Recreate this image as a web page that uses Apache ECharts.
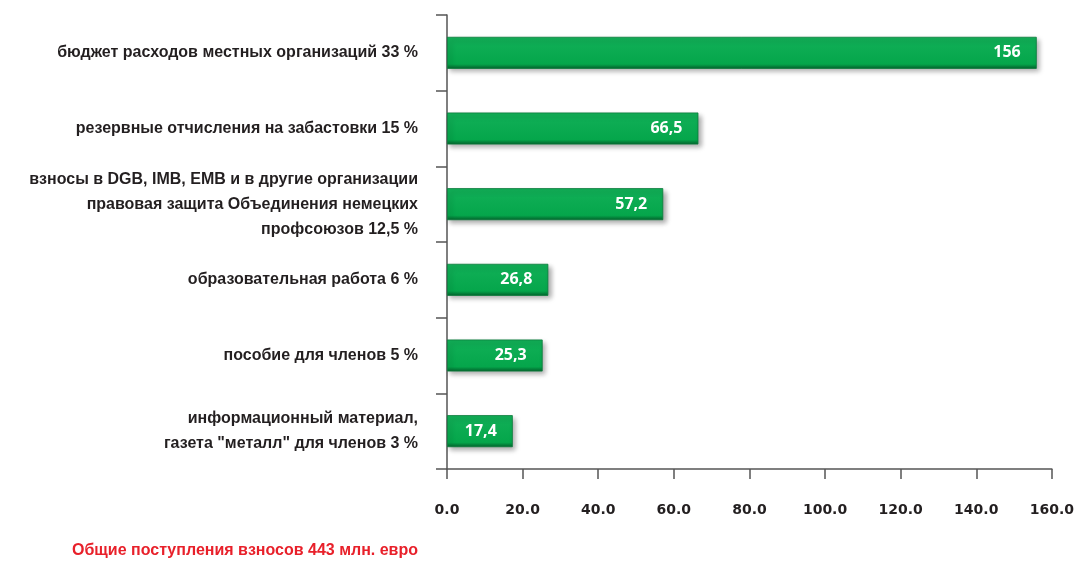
<!DOCTYPE html>
<html>
<head>
<meta charset="utf-8">
<script src="https://cdn.jsdelivr.net/npm/echarts@6/dist/echarts.min.js"></script>
<style>html,body{margin:0;padding:0;background:#fff}#c{width:1077px;height:563px}</style>
</head>
<body>
<div id="c"></div>
<script>
const categories = [
  'бюджет расходов местных организаций 33 %',
  'резервные отчисления на забастовки 15 %',
  'взносы в DGB, IMB, EMB и в другие организации\nправовая защита Объединения немецких\nпрофсоюзов 12,5 %',
  'образовательная работа 6 %',
  'пособие для членов 5 %',
  'информационный материал,\nгазета "металл" для членов 3 %'
];
const values = [156, 66.5, 57.2, 26.8, 25.3, 17.4];
const xTicks = { min: 0, max: 160, interval: 20 };
const footnote = 'Общие поступления взносов 443 млн. евро';

const labelFont = '"Liberation Sans", Arial, sans-serif';
const chart = echarts.init(document.getElementById('c'));
chart.setOption({
  animation: false,
  grid: { left: 447, right: 25, top: 15, bottom: 94 },
  xAxis: {
    type: 'value', min: xTicks.min, max: xTicks.max, interval: xTicks.interval,
    axisLine: { show: true, lineStyle: { color: '#555', width: 1.5 } },
    axisTick: { show: true, length: 10, lineStyle: { color: '#555', width: 1.5 } },
    splitLine: { show: false },
    axisLabel: {
      margin: 34, color: '#231f20', fontWeight: 'bold', fontSize: 14,
      fontFamily: '"DejaVu Sans", sans-serif',
      formatter: v => v.toFixed(1)
    }
  },
  yAxis: {
    type: 'category', data: categories, inverse: true,
    axisLine: { show: true, lineStyle: { color: '#555', width: 1.5 } },
    axisTick: { show: true, length: 11, lineStyle: { color: '#555', width: 1.5 } },
    axisLabel: {
      margin: 29, color: '#231f20', fontWeight: 'bold', fontSize: 16,
      lineHeight: 25, fontFamily: labelFont
    }
  },
  series: [{
    type: 'bar', data: values, barWidth: 32,
    itemStyle: {
      color: new echarts.graphic.LinearGradient(0, 0, 0, 1, [
        { offset: 0, color: '#12b058' },
        { offset: 0.85, color: '#05a64b' },
        { offset: 1, color: '#04612c' }
      ]),
      borderColor: '#0a7a3a', borderWidth: 0.8,
      shadowColor: 'rgba(0,0,0,0.35)', shadowBlur: 5, shadowOffsetX: 3, shadowOffsetY: 3
    },
    label: {
      show: true, position: 'insideRight', distance: 16,
      color: '#fff', fontWeight: 'bold', fontSize: 16,
      fontFamily: '"Open Sans", sans-serif',
      formatter: p => String(p.value).replace('.', ',')
    }
  }],
  graphic: [{
    type: 'text', right: 1077 - 418, top: 543,
    style: { text: footnote, fill: '#e8202a', font: 'bold 16px ' + labelFont, textAlign: 'right' }
  }]
});
</script>
</body>
</html>
